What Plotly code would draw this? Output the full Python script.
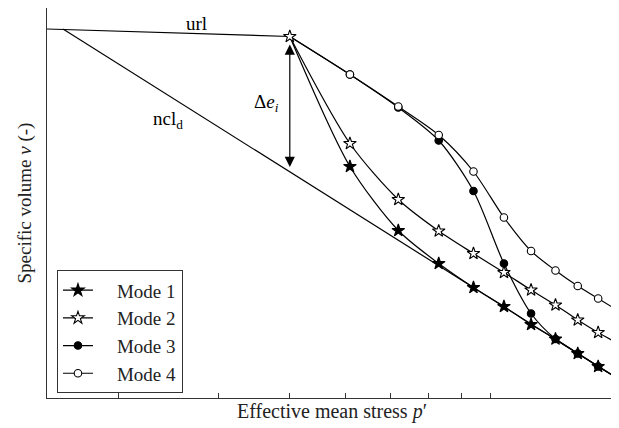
import math
import plotly.graph_objects as go

# ---- data ----
P_PEAK = 4.0
V_PEAK = 2.323
P_STEPS = [5.1, 6.2, 7.3, 8.4, 9.5, 10.6, 11.7, 12.8, 13.9]
P_EDGE = 15.0

MODE1 = [2.063, 1.935, 1.869, 1.821, 1.783, 1.747, 1.718, 1.689, 1.663]
MODE2 = [2.109, 1.997, 1.934, 1.889, 1.851, 1.816, 1.786, 1.756, 1.731]
MODE3 = [2.247, 2.181, 2.115, 2.014, 1.869, 1.769, 1.718, 1.689, 1.663]
MODE4 = [2.247, 2.183, 2.126, 2.053, 1.961, 1.894, 1.855, 1.824, 1.799]
EDGE_V = {"Mode 1": 1.640, "Mode 2": 1.710, "Mode 3": 1.640, "Mode 4": 1.776}

URL_P = [1.5, 4.0]
URL_V = [2.338, 2.323]
NCL_P = [1.6, 15.0]
NCL_V = [2.338, 1.640]

X_TICKS = [2, 3, 4, 5, 6, 7, 8, 9]
X_RANGE = [1.5, 15.0]
Y_RANGE = [1.60, 2.38]

MODES = [
    ("Mode 1", MODE1, "star", "black", 9.5),
    ("Mode 2", MODE2, "star", "white", 9.5),
    ("Mode 3", MODE3, "circle", "black", 7.5),
    ("Mode 4", MODE4, "circle", "white", 7.5),
]

FONT = "Liberation Serif"
NBSP = "\u00a0"
fig = go.Figure()

# reference lines
fig.add_trace(go.Scatter(x=URL_P, y=URL_V, mode="lines",
                         line=dict(color="black", width=1.2), showlegend=False))
fig.add_trace(go.Scatter(x=NCL_P, y=NCL_V, mode="lines",
                         line=dict(color="black", width=1.2), showlegend=False))

# curves
for name, vals, sym, fill, size in MODES:
    fig.add_trace(go.Scatter(
        x=[P_PEAK] + P_STEPS + [P_EDGE], y=[V_PEAK] + vals + [EDGE_V[name]],
        mode="lines", line=dict(color="black", width=1.2, shape="spline", smoothing=0.8),
        showlegend=False))

# markers
for name, vals, sym, fill, size in MODES:
    fig.add_trace(go.Scatter(
        x=P_STEPS, y=vals, mode="markers",
        marker=dict(symbol=sym, size=size, color=fill, line=dict(color="black", width=1.1)),
        showlegend=False))

# peak marker
fig.add_trace(go.Scatter(
    x=[P_PEAK], y=[V_PEAK], mode="markers",
    marker=dict(symbol="star", size=9.5, color="white", line=dict(color="black", width=1.1)),
    showlegend=False))

# legend entries
for name, vals, sym, fill, size in MODES:
    fig.add_trace(go.Scatter(
        x=[None], y=[None], mode="lines+markers", name=NBSP * 4 + name,
        line=dict(color="black", width=1.2),
        marker=dict(symbol=sym, size=size, color=fill, line=dict(color="black", width=1.1))))

# arrow for delta e_i
fig.add_annotation(x=math.log10(P_PEAK), y=2.062, ax=math.log10(P_PEAK), ay=2.31,
                   xref="x", yref="y", axref="x", ayref="y", text="",
                   showarrow=True, arrowside="end+start", arrowhead=2,
                   arrowsize=1.7, arrowwidth=1.2, arrowcolor="black")

fig.add_annotation(x=math.log10(2.74), y=2.349, text="url", showarrow=False,
                   font=dict(family=FONT, size=19, color="black"))
fig.add_annotation(x=math.log10(2.443), y=2.156, text="ncl<sub>d</sub>", showarrow=False,
                   font=dict(family=FONT, size=19, color="black"))
fig.add_annotation(x=math.log10(3.644), y=2.19, text="Δ<i>e</i><sub><i>i</i></sub>",
                   showarrow=False, font=dict(family=FONT, size=19, color="black"))

# the page body adds an 8px offset, so the figure is sized to fit the window
fig.update_layout(
    width=611, height=420,
    margin=dict(l=39, r=2, t=0, b=30),
    paper_bgcolor="white", plot_bgcolor="white",
    font=dict(family=FONT, size=18, color="#222"),
    legend=dict(x=0.0175, y=0.012, xanchor="left", yanchor="bottom",
                bordercolor="#333", borderwidth=1, bgcolor="white",
                tracegroupgap=0,
                font=dict(family=FONT, size=19, color="#222")),
    xaxis=dict(type="log", range=[math.log10(X_RANGE[0]), math.log10(X_RANGE[1])],
               tickvals=X_TICKS, ticktext=[""] * len(X_TICKS), automargin=False,
               ticks="inside", ticklen=5, tickcolor="#333", tickwidth=1,
               showline=True, linecolor="#333", linewidth=1.2, mirror=True,
               showgrid=False, zeroline=False,
               title=dict(text="Effective mean stress <i>p</i>′", standoff=2,
                          font=dict(family=FONT, size=20, color="#222"))),
    yaxis=dict(range=Y_RANGE, showticklabels=False, ticks="", automargin=False,
               showline=True, linecolor="#333", linewidth=1.2, mirror=True,
               showgrid=False, zeroline=False,
               title=dict(text="Specific volume <i>v</i> (-)", standoff=9,
                          font=dict(family=FONT, size=19, color="#222"))),
)

fig.write_html("out.html")
